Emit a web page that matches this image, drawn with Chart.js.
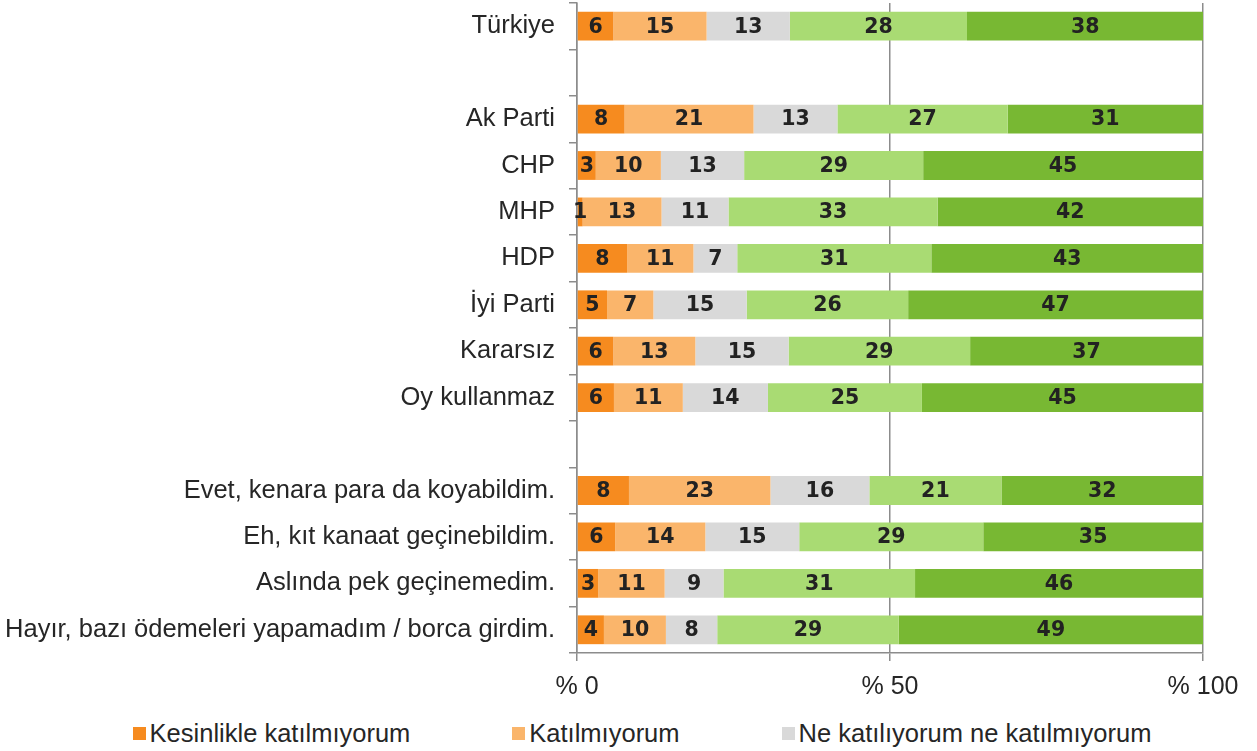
<!DOCTYPE html>
<html lang="tr">
<head>
<meta charset="utf-8">
<script src="https://cdn.jsdelivr.net/npm/chart.js@4.4.0/dist/chart.umd.min.js"></script>
<style>
  html, body { margin: 0; padding: 0; background: #fff; overflow: hidden; }
  body { width: 1257px; height: 751px; position: relative; font-family: 'Liberation Sans', Arial, sans-serif; }
  #chart-wrap { position: absolute; left: 0; top: 0; width: 1257px; height: 713px; }
  #legend {
    position: absolute; top: 718px; left: 112px; width: 1060px;
    display: flex; flex-wrap: wrap; justify-content: center; column-gap: 102px; row-gap: 20px;
  }
  .lg-item { display: flex; align-items: center; font-size: 25.5px; color: #262626; line-height: 30px; white-space: nowrap; }
  .lg-box { width: 13px; height: 13px; margin-right: 4px; }
</style>
</head>
<body>
<div id="chart-wrap"><canvas id="chart"></canvas></div>
<div id="legend"></div>

<script>
// ============ Data ============
const categories = [
  'Türkiye', '',
  'Ak Parti', 'CHP', 'MHP', 'HDP', 'İyi Parti', 'Kararsız', 'Oy kullanmaz', '',
  'Evet, kenara para da koyabildim.', 'Eh, kıt kanaat geçinebildim.',
  'Aslında pek geçinemedim.', 'Hayır, bazı ödemeleri yapamadım / borca girdim.'
];

const seriesNames = [
  'Kesinlikle katılmıyorum', 'Katılmıyorum', 'Ne katılıyorum ne katılmıyorum',
  'Katılıyorum', 'Kesinlikle katılıyorum'
];

const kesinlikleKatilmiyorum = [5.8, null, 7.6, 3.0, 0.9, 8.0, 4.8, 5.8, 5.9, null, 8.3, 6.1, 3.4, 4.3];
const katilmiyorum           = [14.9, null, 20.6, 10.4, 12.6, 10.6, 7.4, 13.1, 11.0, null, 22.6, 14.4, 10.6, 9.9];
const kararsizim             = [13.3, null, 13.4, 13.3, 10.7, 7.0, 14.9, 14.9, 13.6, null, 15.8, 15.0, 9.4, 8.2];
const katiliyorum            = [28.3, null, 27.2, 28.6, 33.4, 31.0, 25.8, 29.0, 24.6, null, 21.1, 29.4, 30.6, 29.0];
const kesinlikleKatiliyorum  = [37.8, null, 31.2, 44.7, 42.4, 43.4, 47.1, 37.2, 44.9, null, 32.2, 35.1, 46.0, 48.6];

const seriesColors = ['#F68B1F', '#FAB56B', '#D9D9D9', '#A9DB73', '#78B833'];

const xTicks = [0, 50, 100];

// ============ Chart ============
const GRID_COLOR = '#8C8C8C';
const TEXT_COLOR = '#262626';
Chart.defaults.font.family = "'Liberation Sans', Arial, sans-serif";

const seriesValues = [kesinlikleKatilmiyorum, katilmiyorum, kararsizim, katiliyorum, kesinlikleKatiliyorum];

// value labels in the middle of each segment
const barLabels = {
  id: 'barLabels',
  afterDatasetsDraw(chart) {
    const ctx = chart.ctx;
    ctx.save();
    ctx.font = "bold 20.5px 'DejaVu Sans', sans-serif";
    ctx.fillStyle = '#222';
    ctx.textAlign = 'center';
    ctx.textBaseline = 'middle';
    chart.data.datasets.forEach((ds, di) => {
      const meta = chart.getDatasetMeta(di);
      meta.data.forEach((el, i) => {
        const v = ds.data[i];
        if (v === null || v === undefined) return;
        ctx.fillText(String(Math.round(v)), (el.x + el.base) / 2, el.y + 1);
      });
    });
    ctx.restore();
  }
};

const ctx = document.getElementById('chart').getContext('2d');
const chart = new Chart(ctx, {
  type: 'bar',
  data: {
    labels: categories,
    datasets: seriesNames.map((name, i) => ({
      label: name,
      data: seriesValues[i],
      backgroundColor: seriesColors[i],
      borderWidth: 0,
      barPercentage: 0.62,
      categoryPercentage: 1,
    })),
  },
  options: {
    indexAxis: 'y',
    responsive: true,
    maintainAspectRatio: false,
    animation: false,
    layout: { padding: { top: 3, right: 54, left: 0, bottom: 0 } },
    plugins: {
      legend: { display: false },
      tooltip: { enabled: false },
    },
    scales: {
      x: {
        stacked: true,
        min: 0,
        max: 100,
        afterBuildTicks: scale => { scale.ticks = xTicks.map(v => ({ value: v })); },
        ticks: {
          callback: v => '% ' + v,
          font: { size: 25 },
          color: TEXT_COLOR,
          padding: 11,
          maxRotation: 0,
        },
        grid: { color: GRID_COLOR, lineWidth: 1.5, tickLength: 8 },
        border: { color: GRID_COLOR, width: 1.5 },
      },
      y: {
        stacked: true,
        afterFit: scale => {
          scale.width = 577;
          scale.paddingTop = 0;
          scale.paddingBottom = 0;
        },
        ticks: {
          font: { size: 25.5 },
          color: TEXT_COLOR,
          padding: 14,
          autoSkip: false,
        },
        grid: { offset: true, drawOnChartArea: false, color: GRID_COLOR, lineWidth: 1.5, tickLength: 8 },
        border: { color: GRID_COLOR, width: 1.5 },
      },
    },
  },
  plugins: [barLabels],
});

// ============ Legend ============
const legendEl = document.getElementById('legend');
legendEl.innerHTML = seriesNames.map((name, i) =>
  `<div class="lg-item"><span class="lg-box" style="background:${seriesColors[i]}"></span>${name}</div>`
).join('');
</script>
</body>
</html>
